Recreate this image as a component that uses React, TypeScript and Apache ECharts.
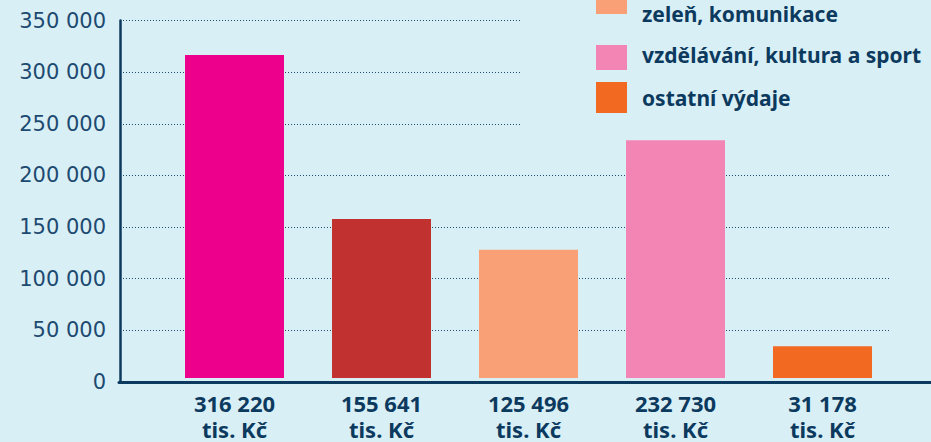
import React, { useEffect, useRef } from "react";
import * as echarts from "echarts";

const values = [316220, 155641, 125496, 232730, 31178];
const seriesNames = ["výdaje 1", "výdaje 2", "zeleň, komunikace", "vzdělávání, kultura a sport", "ostatní výdaje"];
const legendTop = ["zeleň, komunikace"];
const legendRest = ["vzdělávání, kultura a sport", "ostatní výdaje"];
const colors = ["#ec008c", "#c0312f", "#f9a077", "#f385b5", "#f26922"];
const unit = "tis. Kč";
const yMax = 350000;
const yStep = 50000;

const fmt = (v: number) => String(v).replace(/\B(?=(\d{3})+(?!\d))/g, " ");
const categories = values.map((v) => fmt(v) + "\n" + unit);

const NAVY = "#0c3a5e";
const BG = "#d9eff6";

const legendText = {
  color: NAVY,
  fontFamily: "Noto Sans",
  fontWeight: "bold",
  fontSize: 21,
  padding: [0, 0, 0, 10],
};

export default function App() {
  const ref = useRef<HTMLDivElement>(null);
  useEffect(() => {
    document.body.style.margin = "0";
    if (!ref.current) return;
    const chart = echarts.init(ref.current, undefined, { renderer: "svg" });
    const top = 20.5;
    const bottom = 60;
    chart.setOption({
      animation: false,
      backgroundColor: BG,
      grid: [
        { left: 120, right: 40, top, bottom },
        { left: 161, right: 35, top, bottom },
        { left: 119, right: 0, top, bottom },
      ],
      xAxis: [
        { type: "category", gridIndex: 0, data: categories, show: false },
        {
          type: "category",
          gridIndex: 1,
          data: categories,
          axisLine: { show: false },
          axisTick: { show: false },
          axisLabel: {
            margin: 12,
            color: NAVY,
            fontFamily: "Noto Sans",
            fontWeight: "bold",
            fontSize: 22,
            lineHeight: 26,
          },
        },
        {
          type: "category",
          gridIndex: 2,
          data: categories,
          axisLine: { show: true, lineStyle: { color: NAVY, width: 3 } },
          axisTick: { show: false },
          axisLabel: { show: false },
        },
      ],
      yAxis: [
        {
          type: "value",
          gridIndex: 0,
          min: 0,
          max: yMax,
          interval: yStep,
          axisLine: { show: true, lineStyle: { color: NAVY, width: 2.5 } },
          axisTick: { show: false },
          splitLine: { show: true, lineStyle: { color: "#1d4b72", width: 1.2, type: [1, 2] } },
          axisLabel: {
            margin: 14,
            color: "#1d4a70",
            fontFamily: "DejaVu Sans",
            fontSize: 21,
            formatter: (v: number) => fmt(v),
          },
        },
        { type: "value", gridIndex: 1, min: 0, max: yMax, interval: yStep, show: false },
        { type: "value", gridIndex: 2, min: 0, max: yMax, interval: yStep, show: false },
      ],
      legend: [
        {
          data: legendTop,
          orient: "vertical",
          left: 520,
          top: -17,
          z: 5,
          padding: [0, 10, 0, 76],
          backgroundColor: BG,
          itemWidth: 31,
          itemHeight: 62,
          icon: "path://M0 0H31V31H0Z M0 61.99H0.01V62H0Z",
          textStyle: legendText,
        },
        {
          data: legendRest,
          orient: "vertical",
          left: 520,
          top: 14,
          padding: [25, 10, 18, 76],
          backgroundColor: BG,
          itemWidth: 31,
          itemHeight: 31,
          itemGap: 12,
          icon: "rect",
          textStyle: legendText,
        },
      ],
      series: seriesNames.map((name, i) => ({
        name,
        type: "bar",
        xAxisIndex: 1,
        yAxisIndex: 1,
        barGap: "-100%",
        barWidth: 99,
        itemStyle: { color: colors[i] },
        data: values.map((v, j) => (j === i ? v : "-")),
      })),
    });
    return () => chart.dispose();
  }, []);
  return <div ref={ref} style={{ width: 931, height: 442, position: "fixed", left: 0, top: 0 }} />;
}
